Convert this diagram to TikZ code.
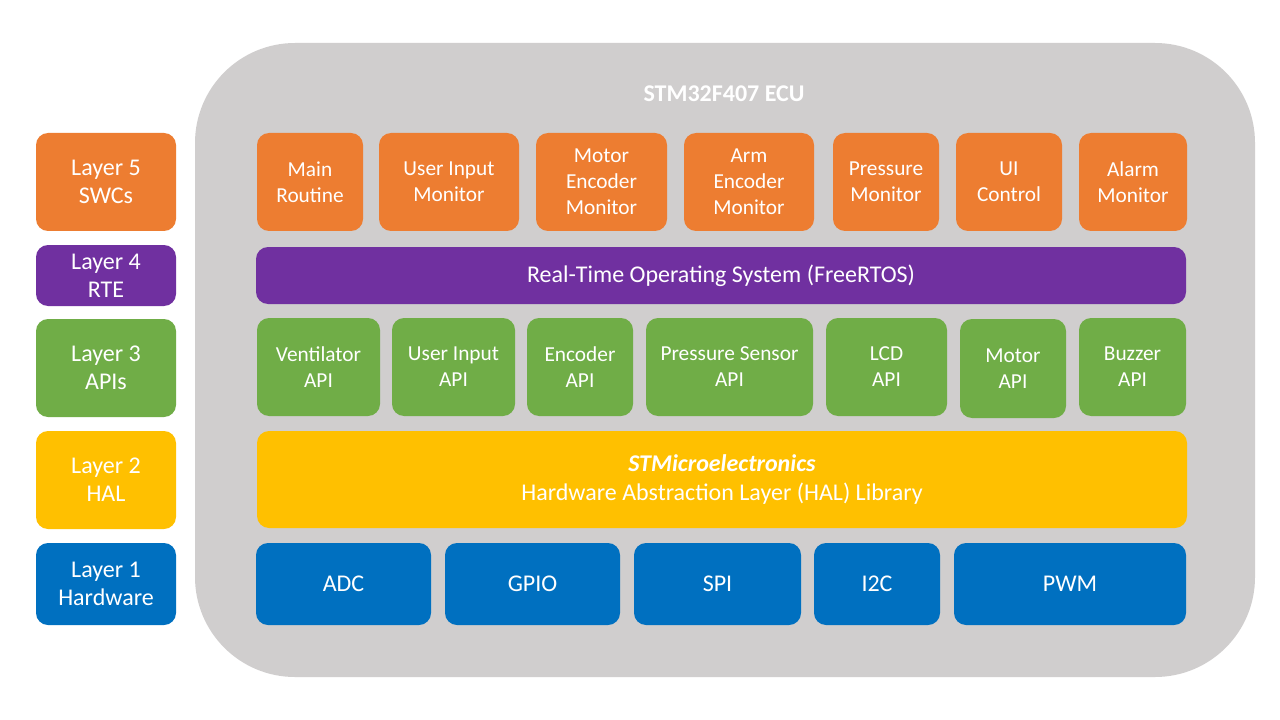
\documentclass[tikz,border=0pt]{standalone}
\usepackage{fontspec}
\setmainfont{Carlito}
\definecolor{cor}{HTML}{ED7D31}
\definecolor{cpu}{HTML}{7030A0}
\definecolor{cgr}{HTML}{70AD47}
\definecolor{cye}{HTML}{FFC000}
\definecolor{cbl}{HTML}{0070C0}
\definecolor{cgy}{HTML}{D0CECE}
\newcommand\bx[7]{\node[blk,#1,minimum width={(#4-#3)*0.75pt},minimum height={(#6-#5)*0.75pt}] (#2) at ({(#3+#4)/2},{(#5+#6)/2}) {#7};}
\begin{document}
\begin{tikzpicture}[x=0.75pt,y=-0.75pt,
  blk/.style={rounded corners=9pt,inner sep=0pt,text=white,align=center,
    font=\fontsize{18}{21}\selectfont},
  sm/.style={font=\fontsize{16}{19.5}\selectfont},
  ttl/.style={text=white,font=\fontsize{18}{20}\selectfont\bfseries}]
\useasboundingbox (0,0) rectangle (1280,720);
\fill[white] (0,0) rectangle (1280,720);
\fill[cgy,rounded corners=75pt] (195,43) rectangle (1255,677);
\node[ttl] (title) at (724,94) {STM32F407 ECU};
% left column
\bx{fill=cor}{L5}{36}{176}{133}{231}{Layer 5\\SWCs}
\bx{fill=cpu}{L4}{36}{176}{245}{306}{Layer 4\\RTE}
\bx{fill=cgr}{L3}{36}{176}{319}{417}{Layer 3\\APIs}
\bx{fill=cye}{L2}{36}{176}{431}{529}{Layer 2\\HAL}
\bx{fill=cbl}{L1}{36}{176}{543}{625}{Layer 1\\Hardware}
% SWCs
\bx{fill=cor,sm}{s1}{257}{363}{133}{231}{Main\\Routine}
\bx{fill=cor,sm}{s2}{379}{519}{133}{231}{User Input\\Monitor}
\bx{fill=cor,sm}{s3}{536}{667}{133}{231}{Motor\\Encoder\\Monitor}
\bx{fill=cor,sm}{s4}{684}{814}{133}{231}{Arm\\Encoder\\Monitor}
\bx{fill=cor,sm}{s5}{833}{939}{133}{231}{Pressure\\Monitor}
\bx{fill=cor,sm}{s6}{956}{1062}{133}{231}{UI\\Control}
\bx{fill=cor,sm}{s7}{1079}{1187}{133}{231}{Alarm\\Monitor}
% RTOS
\bx{fill=cpu}{rtos}{256}{1186}{247}{304}{Real-Time Operating System (FreeRTOS)}
% APIs
\bx{fill=cgr,sm}{a1}{257}{380}{318}{416}{Ventilator\\API}
\bx{fill=cgr,sm}{a2}{392}{515}{318}{416}{User Input\\API}
\bx{fill=cgr,sm}{a3}{527}{633}{318}{416}{Encoder\\API}
\bx{fill=cgr,sm}{a4}{646}{813}{318}{416}{Pressure Sensor\\API}
\bx{fill=cgr,sm}{a5}{826}{947}{318}{416}{LCD\\API}
\bx{fill=cgr,sm}{a6}{960}{1066}{319}{418}{Motor\\API}
\bx{fill=cgr,sm}{a7}{1079}{1186}{318}{416}{Buzzer\\API}
% HAL
\node[blk,fill=cye,minimum width={930*0.75pt},minimum height={97*0.75pt},
  font=\fontsize{18}{22}\selectfont] (hal) at (722,479.5)
  {\textbf{\textit{STMicroelectronics}}\\Hardware Abstraction Layer (HAL) Library};
% Hardware
\bx{fill=cbl}{h1}{256}{431}{543}{625}{ADC}
\bx{fill=cbl}{h2}{445}{620}{543}{625}{GPIO}
\bx{fill=cbl}{h3}{634}{801}{543}{625}{SPI}
\bx{fill=cbl}{h4}{814}{940}{543}{625}{I2C}
\bx{fill=cbl}{h5}{954}{1186}{543}{625}{PWM}
\end{tikzpicture}
\end{document}
